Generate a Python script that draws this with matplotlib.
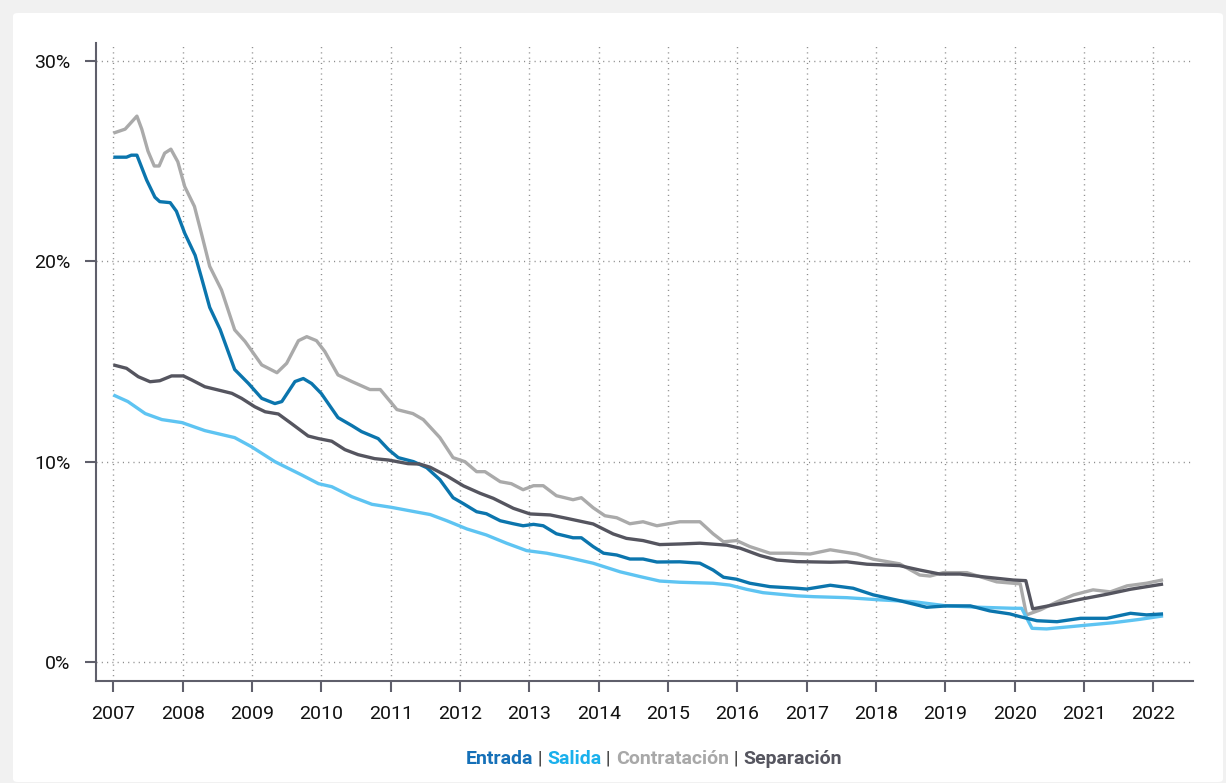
import matplotlib
matplotlib.use("Agg")
import matplotlib.pyplot as plt
from matplotlib.patches import FancyBboxPatch
from matplotlib.offsetbox import TextArea, HPacker, AnchoredOffsetbox

plt.rcParams['font.family'] = ['Roboto', 'DejaVu Sans']

# ---------------- data ----------------
contr_t = [2007.0, 2007.17, 2007.34, 2007.41, 2007.50, 2007.59, 2007.66, 2007.74, 2007.83, 2007.93,
           2008.03, 2008.17, 2008.27, 2008.39, 2008.56, 2008.75, 2008.90, 2009.14, 2009.36, 2009.50,
           2009.67, 2009.79, 2009.93, 2010.05, 2010.24, 2010.44, 2010.70, 2010.85, 2011.09, 2011.32,
           2011.47, 2011.71, 2011.90, 2012.07, 2012.24, 2012.36, 2012.58, 2012.74, 2012.91, 2013.06,
           2013.20, 2013.39, 2013.63, 2013.75, 2013.92, 2014.09, 2014.26, 2014.45, 2014.64, 2014.84,
           2015.17, 2015.46, 2015.65, 2015.80, 2015.99, 2016.18, 2016.47, 2016.76, 2017.05, 2017.34,
           2017.72, 2017.96, 2018.34, 2018.63, 2018.78, 2018.97, 2019.31, 2019.74, 2020.08, 2020.17,
           2020.37, 2020.61, 2020.85, 2021.13, 2021.38, 2021.62, 2021.90, 2022.14]
contr_v = [26.4, 26.6, 27.25, 26.6, 25.5, 24.76, 24.76, 25.4, 25.6, 24.97,
           23.73, 22.74, 21.4, 19.75, 18.57, 16.58, 16.0, 14.83, 14.44, 14.91,
           16.04, 16.24, 16.04, 15.5, 14.33, 14.0, 13.6, 13.6, 12.6, 12.4,
           12.1, 11.2, 10.2, 10.0, 9.5, 9.5, 9.0, 8.9, 8.6, 8.8,
           8.8, 8.3, 8.1, 8.2, 7.7, 7.3, 7.2, 6.9, 7.0, 6.8,
           7.0, 7.0, 6.4, 6.0, 6.06, 5.76, 5.43, 5.43, 5.39, 5.6,
           5.39, 5.13, 4.9, 4.34, 4.29, 4.46, 4.46, 4.0, 3.9, 2.35,
           2.6, 3.0, 3.35, 3.6, 3.5, 3.8, 3.93, 4.1]

entr_t = [2007.0, 2007.19, 2007.26, 2007.34, 2007.48, 2007.60, 2007.67, 2007.82, 2007.91, 2008.03,
          2008.18, 2008.27, 2008.39, 2008.54, 2008.75, 2008.95, 2009.14, 2009.33, 2009.43, 2009.62,
          2009.74, 2009.86, 2010.00, 2010.24, 2010.44, 2010.58, 2010.82, 2010.97, 2011.11, 2011.33,
          2011.52, 2011.71, 2011.90, 2012.05, 2012.24, 2012.38, 2012.58, 2012.77, 2012.91, 2013.06,
          2013.20, 2013.39, 2013.63, 2013.75, 2013.92, 2014.07, 2014.26, 2014.45, 2014.64, 2014.84,
          2015.17, 2015.46, 2015.65, 2015.80, 2015.99, 2016.18, 2016.47, 2016.86, 2017.00, 2017.34,
          2017.67, 2017.96, 2018.34, 2018.73, 2019.02, 2019.36, 2019.64, 2019.93, 2020.08, 2020.32,
          2020.61, 2020.95, 2021.33, 2021.67, 2021.90, 2022.14]
entr_v = [25.2, 25.2, 25.3, 25.3, 24.06, 23.2, 22.98, 22.93, 22.5, 21.4,
          20.3, 19.2, 17.7, 16.6, 14.6, 13.9, 13.16, 12.9, 13.0, 14.0,
          14.15, 13.9, 13.4, 12.2, 11.8, 11.5, 11.15, 10.6, 10.2, 10.0,
          9.7, 9.1, 8.2, 7.9, 7.5, 7.4, 7.05, 6.9, 6.8, 6.87,
          6.8, 6.4, 6.2, 6.2, 5.76, 5.43, 5.34, 5.14, 5.14, 4.99,
          5.0, 4.93, 4.59, 4.23, 4.13, 3.93, 3.76, 3.68, 3.64, 3.83,
          3.68, 3.35, 3.06, 2.73, 2.8, 2.8, 2.55, 2.4, 2.26, 2.06,
          2.01, 2.18, 2.18, 2.43, 2.35, 2.4]

sal_t = [2007.0, 2007.21, 2007.46, 2007.70, 2007.99, 2008.32, 2008.75, 2008.99, 2009.33, 2009.72,
         2009.96, 2010.15, 2010.44, 2010.73, 2011.01, 2011.35, 2011.57, 2011.81, 2012.10, 2012.38,
         2012.67, 2012.96, 2013.25, 2013.54, 2013.92, 2014.31, 2014.60, 2014.88, 2015.17, 2015.65,
         2015.89, 2016.13, 2016.37, 2016.86, 2017.10, 2017.58, 2018.06, 2018.54, 2019.02, 2019.50,
         2019.98, 2020.10, 2020.25, 2020.46, 2020.95, 2021.42, 2021.81, 2022.14]
sal_v = [13.33, 13.0, 12.4, 12.1, 11.95, 11.55, 11.2, 10.75, 10.0, 9.33,
         8.9, 8.75, 8.25, 7.87, 7.72, 7.5, 7.36, 7.05, 6.64, 6.34,
         5.93, 5.56, 5.43, 5.23, 4.93, 4.5, 4.26, 4.04, 3.98, 3.93,
         3.84, 3.63, 3.46, 3.3, 3.26, 3.21, 3.1, 3.01, 2.8, 2.73,
         2.68, 2.68, 1.68, 1.65, 1.81, 1.96, 2.13, 2.3]

sep_t = [2007.0, 2007.19, 2007.36, 2007.53, 2007.67, 2007.84, 2008.01, 2008.13, 2008.32, 2008.51,
         2008.71, 2008.85, 2009.04, 2009.19, 2009.38, 2009.57, 2009.81, 2009.96, 2010.15, 2010.34,
         2010.53, 2010.77, 2010.97, 2011.25, 2011.42, 2011.57, 2011.81, 2012.05, 2012.29, 2012.48,
         2012.77, 2013.01, 2013.30, 2013.54, 2013.92, 2014.21, 2014.40, 2014.64, 2014.88, 2015.17,
         2015.46, 2015.85, 2016.04, 2016.33, 2016.57, 2016.86, 2017.34, 2017.58, 2017.87, 2018.34,
         2018.63, 2018.92, 2019.21, 2019.60, 2019.98, 2020.16, 2020.26, 2020.56, 2020.95, 2021.33,
         2021.67, 2022.14]
sep_v = [14.83, 14.66, 14.24, 13.99, 14.04, 14.28, 14.28, 14.08, 13.74, 13.58,
         13.41, 13.16, 12.74, 12.49, 12.38, 11.9, 11.28, 11.15, 11.02, 10.6,
         10.35, 10.15, 10.08, 9.9, 9.88, 9.72, 9.29, 8.79, 8.42, 8.17,
         7.67, 7.39, 7.34, 7.17, 6.89, 6.39, 6.17, 6.06, 5.86, 5.89,
         5.93, 5.83, 5.68, 5.31, 5.09, 5.01, 4.98, 5.0, 4.88, 4.81,
         4.59, 4.39, 4.39, 4.23, 4.09, 4.06, 2.65, 2.85, 3.13, 3.38,
         3.63, 3.89]

series_names = ['Entrada', 'Salida', 'Contratación', 'Separación']
line_colors = ['#0b75ad', '#5ec4f2', '#aaaaaa', '#55555f']
legend_colors = ['#1570b8', '#1ab0ec', '#a8a8a8', '#55555f']

year_ticks = list(range(2007, 2023))
pct_ticks = [0, 10, 20, 30]
pct_labels = ['0%', '10%', '20%', '30%']

# ---------------- figure ----------------
W, H = 1226, 783
fig = plt.figure(figsize=(W / 100, H / 100), dpi=100, facecolor='#f1f1f1')
panel = FancyBboxPatch((13 / W, 1 - 782 / H), (1223 - 13) / W, (782 - 13) / H,
                       boxstyle='round,pad=0,rounding_size=0.004',
                       transform=fig.transFigure, fc='white', ec='none', zorder=-10)
fig.patches.append(panel)

ax = fig.add_axes([96 / W, 1 - 681 / H, (1193.3 - 96) / W, (681 - 43) / H])
ax.set_facecolor('none')
ax.set_zorder(1)

data = [(entr_t, entr_v), (sal_t, sal_v), (contr_t, contr_v), (sep_t, sep_v)]
order = [2, 1, 0, 3]
for i in order:
    t, v = data[i]
    ax.plot(t, v, color=line_colors[i], lw=2.4, solid_joinstyle='round',
            solid_capstyle='butt', zorder=3 + order.index(i))

ax.set_xlim(2006.75, 2022.576)
ax.set_ylim(-0.95, 30.9)
ax.set_xticks(year_ticks)
ax.set_xticklabels([str(y) for y in year_ticks])
ax.set_yticks(pct_ticks)
ax.set_yticklabels(pct_labels)

for s in ['top', 'right']:
    ax.spines[s].set_visible(False)
for s in ['left', 'bottom']:
    ax.spines[s].set_color('#5f5f6b')
    ax.spines[s].set_linewidth(1.5)

ax.tick_params(axis='both', direction='out', length=8, width=1.5, color='#5f5f6b',
               labelsize=14, labelcolor='#111111')
ax.tick_params(axis='y', pad=10.5)
ax.tick_params(axis='x', pad=9)
ax.grid(True, color='#8c8c8c', linestyle=(0, (0.8, 3.0)), linewidth=1.0)
ax.set_axisbelow(True)

# ---------------- legend line ----------------
parts = []
for k, name in enumerate(series_names):
    if k > 0:
        parts.append(TextArea(' | ', textprops=dict(color='#333333', fontsize=14)))
    parts.append(TextArea(name, textprops=dict(color=legend_colors[k], fontsize=14,
                                               fontweight='bold')))
box = HPacker(children=parts, align='baseline', pad=0, sep=0)
anch = AnchoredOffsetbox(loc='center', child=box, pad=0, borderpad=0, frameon=False,
                         bbox_to_anchor=(653.5 / W, 1 - 759 / H),
                         bbox_transform=fig.transFigure)
fig.add_artist(anch)

fig.savefig('out.png', dpi=100, facecolor=fig.get_facecolor())
